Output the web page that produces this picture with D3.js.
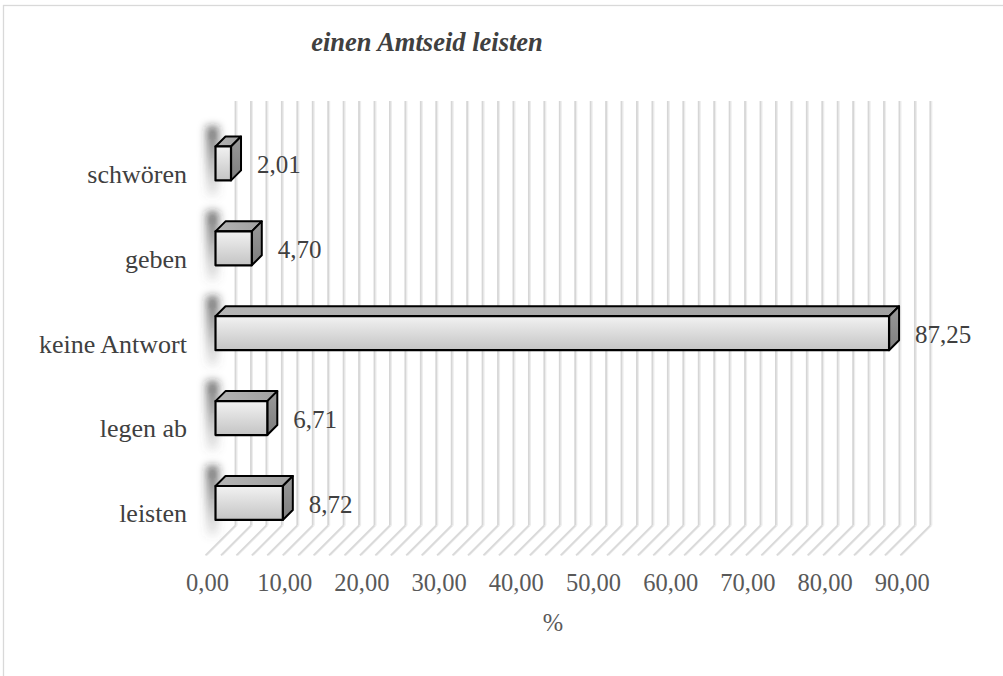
<!DOCTYPE html>
<html>
<head>
<meta charset="utf-8">
<script src="https://cdn.jsdelivr.net/npm/d3@7"></script>
<style>
  html, body { margin: 0; padding: 0; background: #fff; }
  svg { display: block; }
  text { font-family: "Liberation Serif", "Times New Roman", serif; }
</style>
</head>
<body>
<svg id="chart" width="1003" height="676"></svg>
<script>
// ---- data ----
const categories = ["schwören", "geben", "keine Antwort", "legen ab", "leisten"];
const values = [2.01, 4.70, 87.25, 6.71, 8.72];
const tickValues = [0, 10, 20, 30, 40, 50, 60, 70, 80, 90];
const gridValues = d3.range(0, 91, 2);
const chartTitle = "einen Amtseid leisten";
const axisTitle = "%";

// ---- layout ----
const W = 1003, H = 676;
const depth = 30; // oblique depth offset in px (x right, y up)
const svg = d3.select("#chart");

const x = d3.scaleLinear().domain([0, 90]).range([205.5, 900.3]);
const y = d3.scaleBand().domain(categories).range([131, 555.4])
  .paddingInner(0.6).paddingOuter(0.3);

const fmt = v => d3.format(".2f")(v).replace(".", ",");
const P = (px, py, d) => [px + depth * d, py - depth * d];

// chart border
svg.append("rect").attr("x", 3.5).attr("y", 5.5).attr("width", W + 10).attr("height", H + 10)
  .attr("fill", "#fff").attr("stroke", "#d9d9d9").attr("stroke-width", 1.3);

const defs = svg.append("defs");
const gFront = defs.append("linearGradient").attr("id", "gFront").attr("x1", 0).attr("y1", 0).attr("x2", 0).attr("y2", 1);
gFront.append("stop").attr("offset", "0%").attr("stop-color", "#f2f2f2");
gFront.append("stop").attr("offset", "100%").attr("stop-color", "#c4c4c4");
const gTop = defs.append("linearGradient").attr("id", "gTop").attr("x1", 0).attr("y1", 0).attr("x2", 1).attr("y2", 0);
gTop.append("stop").attr("offset", "0%").attr("stop-color", "#b4b4b4");
gTop.append("stop").attr("offset", "100%").attr("stop-color", "#a0a0a0");
const gSide = defs.append("linearGradient").attr("id", "gSide").attr("x1", 0).attr("y1", 0).attr("x2", 0).attr("y2", 1);
gSide.append("stop").attr("offset", "0%").attr("stop-color", "#9a9a9a");
gSide.append("stop").attr("offset", "100%").attr("stop-color", "#7e7e7e");
const gShadow = defs.append("linearGradient").attr("id", "gShadow").attr("x1", 0).attr("y1", 0).attr("x2", 0).attr("y2", 1);
gShadow.append("stop").attr("offset", "0%").attr("stop-color", "#202020").attr("stop-opacity", 0.7);
gShadow.append("stop").attr("offset", "60%").attr("stop-color", "#404040").attr("stop-opacity", 0.35);
gShadow.append("stop").attr("offset", "100%").attr("stop-color", "#606060").attr("stop-opacity", 0.1);
const blur = defs.append("filter").attr("id", "blur").attr("x", "-100%").attr("y", "-50%").attr("width", "300%").attr("height", "200%");
blur.append("feGaussianBlur").attr("stdDeviation", 4);

// ---- gridlines (back wall + floor) ----
const [, y0] = y.range();
const yTop = y.range()[0];
const grid = svg.append("g");
gridValues.forEach(v => {
  const b0 = P(x(v), y0, 1), b1 = P(x(v), yTop, 1), f0 = P(x(v), y0, 0);
  grid.append("line").attr("x1", b1[0] + 1.5).attr("y1", b1[1]).attr("x2", b0[0] + 1.5).attr("y2", b0[1])
    .attr("stroke", "#ededed").attr("stroke-width", 1.2);
  grid.append("line").attr("x1", b1[0]).attr("y1", b1[1]).attr("x2", b0[0]).attr("y2", b0[1])
    .attr("stroke", "#d6d6d6").attr("stroke-width", 1.8);
  grid.append("line").attr("x1", b0[0] + 1.5).attr("y1", b0[1]).attr("x2", f0[0] + 1.5).attr("y2", f0[1])
    .attr("stroke", "#ededed").attr("stroke-width", 1.2);
  grid.append("line").attr("x1", b0[0]).attr("y1", b0[1]).attr("x2", f0[0]).attr("y2", f0[1])
    .attr("stroke", "#d9d9d9").attr("stroke-width", 1.8);
});

// ---- bars ----
const bars = svg.append("g");
const dF = 1 / 3, dB = 2 / 3;
categories.forEach((c, i) => {
  const v = values[i];
  const yt = y(c), yb = y(c) + y.bandwidth();
  const xl = x(0), xr = x(v);
  const fTL = P(xl, yt, dF), fTR = P(xr, yt, dF), fBR = P(xr, yb, dF), fBL = P(xl, yb, dF);
  const bTL = P(xl, yt, dB), bTR = P(xr, yt, dB), bBR = P(xr, yb, dB);
  // soft shadow
  bars.append("rect")
    .attr("x", fTL[0] - 9).attr("y", bTL[1] - 10)
    .attr("width", 12).attr("height", (fBL[1] - bTL[1]) + 26)
    .attr("fill", "url(#gShadow)").attr("filter", "url(#blur)");
  const poly = pts => "M" + pts.map(p => p.join(",")).join("L") + "Z";
  bars.append("path").attr("d", poly([fTL, bTL, bTR, fTR]))
    .attr("fill", "url(#gTop)").attr("stroke", "#000").attr("stroke-width", 2).attr("stroke-linejoin", "round");
  bars.append("path").attr("d", poly([fTR, bTR, bBR, fBR]))
    .attr("fill", "url(#gSide)").attr("stroke", "#000").attr("stroke-width", 2).attr("stroke-linejoin", "round");
  bars.append("path").attr("d", poly([fTL, fTR, fBR, fBL]))
    .attr("fill", "url(#gFront)").attr("stroke", "#000").attr("stroke-width", 2.2).attr("stroke-linejoin", "round");
  // value label
  const cy = P(0, y(c) + y.bandwidth() / 2, dF)[1];
  bars.append("text").attr("x", P(xr, 0, dF)[0] + 26).attr("y", cy + 10)
    .attr("font-size", 25).attr("fill", "#404040")
    .text(fmt(v));
});

// ---- axes ----
const xAxis = d3.axisBottom(x).tickValues(tickValues).tickSize(0).tickPadding(0).tickFormat(fmt);
const gx = svg.append("g").attr("transform", `translate(1.5, 574)`).call(xAxis);
gx.select(".domain").remove();
gx.selectAll("text").attr("font-family", "Liberation Serif").attr("font-size", 24.5)
  .attr("fill", "#595959").attr("dy", "0.71em").attr("y", 0);

const yAxis = d3.axisLeft(y).tickSize(0).tickPadding(0);
const gy = svg.append("g").attr("transform", `translate(187, 1)`).call(yAxis);
gy.select(".domain").remove();
gy.selectAll("text").attr("font-family", "Liberation Serif").attr("font-size", 26)
  .attr("fill", "#404040").attr("x", 0).attr("dy", "0.32em");

// ---- titles ----
svg.append("text").attr("x", 427).attr("y", 51).attr("text-anchor", "middle")
  .attr("font-size", 26.5).attr("font-weight", "bold").attr("font-style", "italic")
  .attr("fill", "#404040").text(chartTitle);
svg.append("text").attr("x", 553).attr("y", 631).attr("text-anchor", "middle")
  .attr("font-size", 24.5).attr("fill", "#595959").text(axisTitle);
</script>
</body>
</html>
